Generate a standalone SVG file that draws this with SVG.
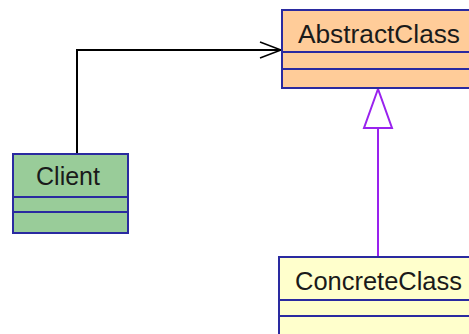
<svg xmlns="http://www.w3.org/2000/svg" width="469" height="334" viewBox="0 0 469 334">
<style>
.box{stroke:#2a2aa0;stroke-width:2}
.sep{stroke:#2a2aa0;stroke-width:2;fill:none}
.lbl{font-family:"Liberation Sans",Arial,sans-serif;font-size:25px;fill:#1a1a1a}
</style>
<rect width="469" height="334" fill="#ffffff"/>
<g id="connectors">
<polyline points="77,154 77,50 281,50" fill="none" stroke="#000" stroke-width="2"/>
<polyline points="260,42 281,50 260,58" fill="none" stroke="#000" stroke-width="1.5"/>
<line x1="378" y1="256" x2="378" y2="128" stroke="#9922ee" stroke-width="2"/>
<polygon points="378,89 364,128 392,128" fill="#ffffff" stroke="#9922ee" stroke-width="2"/>
</g>
<g id="AbstractClass">
<rect class="box" x="282" y="10" width="200" height="78" fill="#ffcc99"/>
<line class="sep" x1="282" y1="52" x2="469" y2="52"/>
<line class="sep" x1="282" y1="69" x2="469" y2="69"/>
<text class="lbl" x="298" y="43" textLength="162" lengthAdjust="spacingAndGlyphs">AbstractClass</text>
</g>
<g id="Client">
<rect class="box" x="13" y="154" width="115" height="79" fill="#99cc99"/>
<line class="sep" x1="13" y1="197" x2="128" y2="197"/>
<line class="sep" x1="13" y1="212" x2="128" y2="212"/>
<text class="lbl" x="36" y="185" textLength="64" lengthAdjust="spacingAndGlyphs">Client</text>
</g>
<g id="ConcreteClass">
<rect class="box" x="279" y="257" width="200" height="90" fill="#ffffcc"/>
<line class="sep" x1="279" y1="300" x2="469" y2="300"/>
<line class="sep" x1="279" y1="316" x2="469" y2="316"/>
<text class="lbl" x="295" y="290" textLength="167" lengthAdjust="spacingAndGlyphs">ConcreteClass</text>
</g>
</svg>
